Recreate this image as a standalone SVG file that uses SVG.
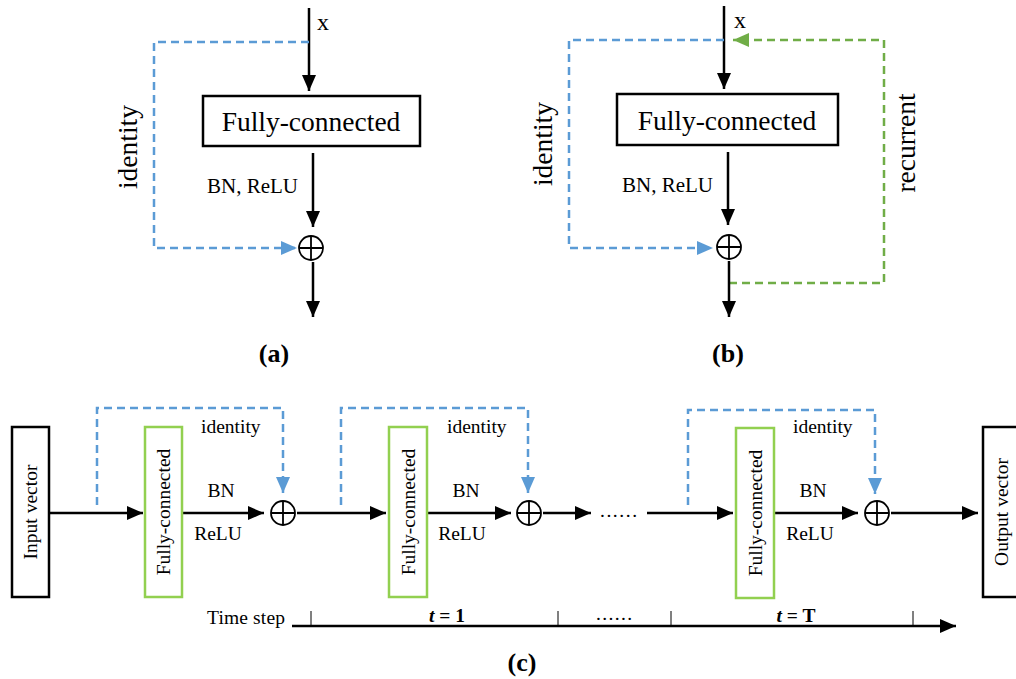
<svg xmlns="http://www.w3.org/2000/svg" width="1016" height="679" viewBox="0 0 1016 679">
<style>
text{font-family:"Liberation Serif","Times New Roman",serif;fill:#000}
.ln{stroke:#000;stroke-width:2.5;fill:none}
.blue{stroke:#5B9BD5;stroke-width:2.5;fill:none;stroke-dasharray:8 5}
.green{stroke:#70AD47;stroke-width:2.5;fill:none;stroke-dasharray:8 5}
.box{fill:#fff;stroke:#000;stroke-width:2.5}
.gbox{fill:#fff;stroke:#92D050;stroke-width:2.5}
.sum{fill:#fff;stroke:#000;stroke-width:1.8}
.big{font-size:27.5px}
.mid{font-size:21px}
.sm{font-size:19.5px}
.lab{font-size:26px;font-weight:bold}
.tick{stroke:#000;stroke-width:1}
</style>
<defs>
<marker id="ak" viewBox="0 0 16 14" refX="16" refY="7" markerWidth="16" markerHeight="14" markerUnits="userSpaceOnUse" orient="auto"><path d="M0,0 L16,7 L0,14 z" fill="#000"/></marker>
<marker id="ab" viewBox="0 0 16 14" refX="16" refY="7" markerWidth="16" markerHeight="14" markerUnits="userSpaceOnUse" orient="auto"><path d="M0,0 L16,7 L0,14 z" fill="#5B9BD5"/></marker>
<marker id="ag" viewBox="0 0 16 14" refX="16" refY="7" markerWidth="16" markerHeight="14" markerUnits="userSpaceOnUse" orient="auto"><path d="M0,0 L16,7 L0,14 z" fill="#70AD47"/></marker>
<g id="plus"><circle cx="0" cy="0" r="12" class="sum"/><path d="M-12,0 H12 M0,-12 V12" stroke="#000" stroke-width="1.8"/></g>
</defs>

<g id="connectors">
<!-- panel a -->
<path class="ln" d="M309,8 L309,91" marker-end="url(#ak)"/>
<path class="blue" d="M309,42 L154,42 L154,248 L297,248" marker-end="url(#ab)"/>
<path class="ln" d="M313,153 L313,227" marker-end="url(#ak)"/>
<path class="ln" d="M313,262 L313,317" marker-end="url(#ak)"/>
<!-- panel b -->
<path class="ln" d="M724,6 L724,89" marker-end="url(#ak)"/>
<path class="blue" d="M724,40 L569,40 L569,248 L713,248" marker-end="url(#ab)"/>
<path class="green" d="M729,283 L884,283 L884,40 L733,40" marker-end="url(#ag)"/>
<path class="ln" d="M728,152 L728,225" marker-end="url(#ak)"/>
<path class="ln" d="M729,261 L729,317" marker-end="url(#ak)"/>
<!-- panel c -->
<path class="ln" d="M49,513 L143,513" marker-end="url(#ak)"/>
<path class="blue" d="M97,505 L97,408 L283,408 L283,493" marker-end="url(#ab)"/>
<path class="ln" d="M182,513 L264,513" marker-end="url(#ak)"/>
<path class="ln" d="M297,513 L386,513" marker-end="url(#ak)"/>
<path class="blue" d="M341,505 L341,408 L528,408 L528,493" marker-end="url(#ab)"/>
<path class="ln" d="M427,513 L511,513" marker-end="url(#ak)"/>
<path class="ln" d="M543,513 L591,513" marker-end="url(#ak)"/>
<path class="ln" d="M647,513 L733,513" marker-end="url(#ak)"/>
<path class="blue" d="M688,505 L688,410 L875,410 L875,494" marker-end="url(#ab)"/>
<path class="ln" d="M774,513 L858,513" marker-end="url(#ak)"/>
<path class="ln" d="M891,513 L978,513" marker-end="url(#ak)"/>
<!-- timeline -->
<path class="ln" d="M292,626 L956,626" marker-end="url(#ak)"/>
<path class="tick" d="M311,611 V626 M558,611 V626 M671,611 V626 M913,611 V626"/>
</g>

<!-- panel a nodes -->
<g id="a-fc"><rect class="box" x="203" y="96" width="217" height="50"/><text class="big" x="311" y="131" text-anchor="middle">Fully-connected</text></g>
<g id="a-sum"><use href="#plus" x="311" y="248"/></g>
<g id="a-labels">
<text x="317" y="30" font-size="24">x</text>
<text class="mid" x="207" y="193">BN, ReLU</text>
<text class="big" transform="translate(137,147) rotate(-90)" text-anchor="middle">identity</text>
<text class="lab" x="274" y="362" text-anchor="middle">(a)</text>
</g>

<!-- panel b nodes -->
<g id="b-fc"><rect class="box" x="617" y="94" width="221" height="51"/><text class="big" x="727" y="130" text-anchor="middle">Fully-connected</text></g>
<g id="b-sum"><use href="#plus" x="729" y="247"/></g>
<g id="b-labels">
<text x="734" y="28" font-size="24">x</text>
<text class="mid" x="622" y="192">BN, ReLU</text>
<text class="big" transform="translate(552,144) rotate(-90)" text-anchor="middle">identity</text>
<text class="big" transform="translate(915,143) rotate(-90)" text-anchor="middle">recurrent</text>
<text class="lab" x="728" y="362" text-anchor="middle">(b)</text>
</g>

<!-- panel c nodes -->
<g id="c-input"><rect class="box" x="12" y="427" width="37" height="170"/><text class="sm" transform="translate(37,512) rotate(-90)" text-anchor="middle">Input vector</text></g>
<g id="c-fc1"><rect class="gbox" x="145" y="427" width="37" height="170"/><text class="sm" transform="translate(170,512) rotate(-90)" text-anchor="middle">Fully-connected</text></g>
<g id="c-sum1"><use href="#plus" x="283" y="513"/></g>
<g id="c-fc2"><rect class="gbox" x="389" y="427" width="38" height="170"/><text class="sm" transform="translate(415,512) rotate(-90)" text-anchor="middle">Fully-connected</text></g>
<g id="c-sum2"><use href="#plus" x="529" y="513"/></g>
<g id="c-fc3"><rect class="gbox" x="736" y="428" width="38" height="170"/><text class="sm" transform="translate(762,513) rotate(-90)" text-anchor="middle">Fully-connected</text></g>
<g id="c-sum3"><use href="#plus" x="877" y="513"/></g>
<g id="c-output"><rect class="box" x="983" y="427" width="50" height="170"/><text class="sm" transform="translate(1008,512) rotate(-90)" text-anchor="middle">Output vector</text></g>
<g id="c-labels" class="sm">
<text x="201" y="433">identity</text>
<text x="447" y="433">identity</text>
<text x="793" y="433">identity</text>
<text x="221" y="497" text-anchor="middle">BN</text>
<text x="218" y="540" text-anchor="middle">ReLU</text>
<text x="466" y="497" text-anchor="middle">BN</text>
<text x="462" y="540" text-anchor="middle">ReLU</text>
<text x="813" y="497" text-anchor="middle">BN</text>
<text x="810" y="540" text-anchor="middle">ReLU</text>
<text x="600" y="517" textLength="37">......</text>
<text x="207" y="624" textLength="78">Time step</text>
<text x="447" y="622" text-anchor="middle" font-weight="bold"><tspan font-style="italic">t</tspan> = 1</text>
<text x="596" y="620" textLength="36">......</text>
<text x="796" y="622" text-anchor="middle" font-weight="bold"><tspan font-style="italic">t</tspan> = T</text>
<text class="lab" x="522" y="671" text-anchor="middle">(c)</text>
</g>
</svg>
